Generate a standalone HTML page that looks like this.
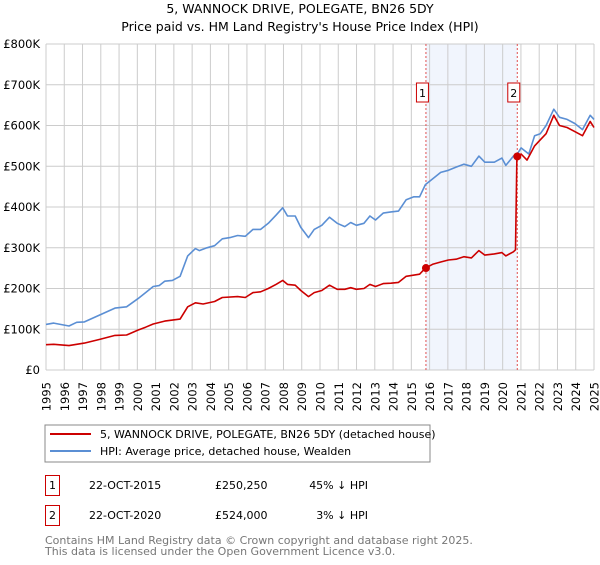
<!DOCTYPE html>
<html><head><meta charset="utf-8"><style>
body{margin:0;background:#fff;font-family:"Liberation Sans","DejaVu Sans",sans-serif}
svg text{font-family:"DejaVu Sans","Liberation Sans",sans-serif}
</style></head><body>
<svg id="c" width="600" height="560" xmlns="http://www.w3.org/2000/svg">
<text x="300" y="13" text-anchor="middle" font-size="12.5">5, WANNOCK DRIVE, POLEGATE, BN26 5DY</text>
<text x="300" y="31" text-anchor="middle" font-size="12.5">Price paid vs. HM Land Registry's House Price Index (HPI)</text>
<g id="plot"></g>
<rect x="45" y="425" width="385" height="37" fill="#fff" stroke="#888"/>
<line x1="50" y1="434" x2="91" y2="434" stroke="#cc0000" stroke-width="2"/>
<text x="100" y="438" font-size="11">5, WANNOCK DRIVE, POLEGATE, BN26 5DY (detached house)</text>
<line x1="50" y1="451" x2="91" y2="451" stroke="#5b8fd4" stroke-width="2"/>
<text x="100" y="455" font-size="11">HPI: Average price, detached house, Wealden</text>
<g font-size="11">
<rect x="45.5" y="475.5" width="14" height="20" fill="none" stroke="#cc0000"/>
<text x="49" y="489">1</text>
<text x="89" y="489">22-OCT-2015</text>
<text x="215" y="489">£250,250</text>
<text x="368" y="489" text-anchor="end">45% ↓ HPI</text>
<rect x="45.5" y="505.5" width="14" height="20" fill="none" stroke="#cc0000"/>
<text x="49" y="519">2</text>
<text x="89" y="519">22-OCT-2020</text>
<text x="215" y="519">£524,000</text>
<text x="368" y="519" text-anchor="end">3% ↓ HPI</text>
</g>
<text x="45" y="544" font-size="11" fill="#777">Contains HM Land Registry data © Crown copyright and database right 2025.</text>
<text x="45" y="555" font-size="11" fill="#777">This data is licensed under the Open Government Licence v3.0.</text>
</svg>
<script>
const yTicks=[0,100,200,300,400,500,600,700,800];
const yTickLabels=["£0","£100K","£200K","£300K","£400K","£500K","£600K","£700K","£800K"];
const xYears=[1995,1996,1997,1998,1999,2000,2001,2002,2003,2004,2005,2006,2007,2008,2009,2010,2011,2012,2013,2014,2015,2016,2017,2018,2019,2020,2021,2022,2023,2024,2025];
const hpiOffsets=[0,0.42,1.26,1.68,2.10,2.94,3.78,4.41,5.03,5.45,5.87,6.19,6.50,6.92,7.34,7.76,8.18,8.39,8.81,9.23,9.65,10.07,10.49,10.91,11.33,11.75,12.17,12.59,12.96,13.22,13.64,13.95,14.37,14.68,15.10,15.52,15.94,16.36,16.68,16.99,17.41,17.73,18.04,18.46,18.88,19.30,19.72,20.14,20.45,20.77,21.19,21.61,22.03,22.45,22.87,23.29,23.70,24.02,24.54,24.96,25.17,25.59,25.80,26.01,26.43,26.75,27.06,27.38,27.80,28.11,28.53,28.95,29.37,29.79,30];
const hpiValues=[112,115,108,117,118,135,152,155,175,190,205,207,218,220,230,280,298,293,300,305,322,325,330,328,345,345,360,380,398,378,378,350,325,345,355,375,360,352,362,355,360,378,368,385,388,390,418,425,425,455,470,485,490,498,505,500,525,510,510,520,502,525,530,545,530,575,580,600,640,620,615,605,590,625,615];
const ppOffsets=[0,0.42,1.26,1.68,2.10,2.94,3.78,4.41,5.03,5.45,5.87,6.50,7.34,7.76,8.18,8.60,9.23,9.65,10.49,10.91,11.33,11.75,12.17,12.59,12.96,13.22,13.64,13.95,14.37,14.68,15.10,15.52,15.94,16.36,16.68,16.99,17.41,17.73,18.04,18.46,18.88,19.30,19.72,20.45,20.77,21.19,21.61,22.03,22.45,22.87,23.29,23.70,24.02,24.54,24.96,25.17,25.59,25.70,25.78,26.01,26.33,26.75,27.06,27.38,27.80,28.11,28.53,28.95,29.37,29.79,30];
const ppValues=[62,63,60,63,66,75,85,86,98,105,113,120,125,155,165,162,168,178,180,178,190,192,200,210,220,210,208,195,180,190,195,208,198,198,202,198,200,210,205,212,213,215,230,235,250,260,265,270,272,278,275,293,282,285,288,280,290,295,524,530,515,550,565,580,625,600,595,585,575,610,595];
const saleYears=[2015.8,2020.8];
const saleValues=[250.25,524];
const saleLabels=["1","2"];
const NS="http://www.w3.org/2000/svg";
const X0=46,X1=594,Y0=370,Y1=44;
const xs=y=>X0+(y-1995)/30*(X1-X0);
const ys=v=>Y0-v/800*(Y0-Y1);
const g=document.getElementById('plot');
function mk(t,a){const e=document.createElementNS(NS,t);for(const k in a)e.setAttribute(k,a[k]);g.appendChild(e);return e;}
let sh=mk('rect',{x:xs(saleYears[0]),y:Y1,width:xs(saleYears[1])-xs(saleYears[0]),height:Y0-Y1,fill:'#eef3fc',opacity:0.8});


xYears.forEach(yr=>{const l=mk('line',{x1:xs(yr),x2:xs(yr),y1:Y1,y2:Y0,stroke:'#ccc'});


const tx=xs(yr)+4.5,ty=Y0+12;
const t=mk('text',{x:tx,y:ty,'text-anchor':'end','font-size':11.5,transform:'rotate(-90 '+tx+' '+ty+')'});t.textContent=yr;

});
yTicks.forEach((v,i)=>{const l=mk('line',{x1:X0,x2:X1,y1:ys(v),y2:ys(v),stroke:'#ccc'});


const t=mk('text',{x:X0-6,y:ys(v)+4,'text-anchor':'end','font-size':11.5});t.textContent=yTickLabels[i];

});
saleYears.forEach((yr,i)=>{const l=mk('line',{x1:xs(yr),x2:xs(yr),y1:Y1,y2:Y0,stroke:'#e05050','stroke-dasharray':'2,2'});


const b=mk('rect',{x:xs(yr)-9.5,y:83,width:12,height:19,fill:'#fff',stroke:'#cc0000'});


const t=mk('text',{x:xs(yr)-3.5,y:97,'text-anchor':'middle','font-size':11});t.textContent=saleLabels[i];

});
function path(off,vals,col,name){const d=off.map((o,i)=>(i?'L':'M')+xs(1995+o).toFixed(1)+','+ys(vals[i]).toFixed(1)).join('');
const p=mk('path',{d:d,fill:'none',stroke:col,'stroke-width':1.6,'stroke-linejoin':'round'});

}
path(hpiOffsets,hpiValues,'#5b8fd4','hpi-line');
path(ppOffsets,ppValues,'#cc0000','property-price-line');
saleYears.forEach((yr,i)=>{const c=mk('circle',{cx:xs(yr),cy:ys(saleValues[i]),r:4,fill:'#cc0000'});

});
</script>
</body></html>
